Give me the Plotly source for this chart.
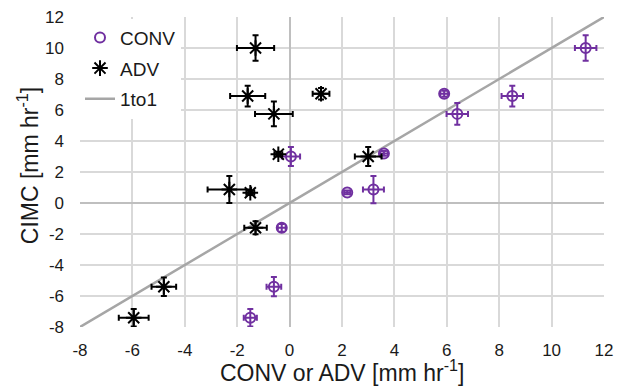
import plotly.graph_objects as go

# CONV series
conv_x = [11.3, 5.9, 8.5, 6.4, 3.6, 0.05, 2.2, 3.2, -0.3, -0.6, -1.5]
conv_y = [10.0, 7.05, 6.9, 5.75, 3.2, 3.0, 0.68, 0.87, -1.6, -5.4, -7.4]
conv_xerr = [0.41, 0.15, 0.41, 0.41, 0.15, 0.35, 0.12, 0.4, 0.15, 0.28, 0.25]
conv_yerr = [0.82, 0.2, 0.67, 0.7, 0.15, 0.62, 0.12, 0.88, 0.25, 0.62, 0.56]

# ADV series
adv_x = [-1.3, -1.6, -0.6, -0.43, 1.2, 3.0, -2.3, -1.5, -1.3, -4.8, -5.95]
adv_y = [10.0, 6.9, 5.75, 3.15, 7.05, 3.0, 0.87, 0.66, -1.6, -5.4, -7.4]
adv_xerr = [0.71, 0.67, 0.72, 0.15, 0.32, 0.51, 0.83, 0.15, 0.43, 0.47, 0.57]
adv_yerr = [0.83, 0.67, 0.8, 0.15, 0.37, 0.62, 0.87, 0.15, 0.42, 0.6, 0.56]

# 1to1 line
line_x = [-8, 12]
line_y = [-8, 12]

# tick values / labels (hyphen minus as in reference)
tick_vals = [-8, -6, -4, -2, 0, 2, 4, 6, 8, 10, 12]
tick_text = ["-8", "-6", "-4", "-2", "0", "2", "4", "6", "8", "10", "12"]

x_title = "CONV or ADV [mm hr<sup>-1</sup>]"
y_title = "CIMC [mm hr<sup>-1</sup>]"

purple = "#7030A0"

fig = go.Figure()
fig.add_trace(go.Scatter(
    x=line_x, y=line_y, mode="lines", name="1to1",
    line=dict(color="#A6A6A6", width=2.5), legendrank=3, legendgroup="c",
))
fig.add_trace(go.Scatter(
    x=conv_x, y=conv_y, mode="markers", name="CONV", legendrank=1, legendgroup="a",
    marker=dict(symbol="circle-open", size=10, color=purple, line=dict(width=2, color=purple)),
    error_x=dict(type="data", array=conv_xerr, color=purple, thickness=2, width=3),
    error_y=dict(type="data", array=conv_yerr, color=purple, thickness=2, width=3),
))
fig.add_trace(go.Scatter(
    x=adv_x, y=adv_y, mode="markers", name="ADV", legendrank=2, legendgroup="b",
    marker=dict(symbol="asterisk-open", size=13, color="black", line=dict(width=2, color="black")),
    error_x=dict(type="data", array=adv_xerr, color="black", thickness=2, width=3),
    error_y=dict(type="data", array=adv_yerr, color="black", thickness=2, width=3),
))

axis_common = dict(
    range=[-8, 12], tickmode="array", tickvals=tick_vals, ticktext=tick_text,
    showgrid=True, gridcolor="#D9D9D9", gridwidth=1.5,
    zeroline=True, zerolinecolor="#BFBFBF", zerolinewidth=2,
    showline=False, ticks="", automargin=False,
    tickfont=dict(family="Liberation Sans, Arial", size=17, color="#1a1a1a"),
)

fig.update_layout(
    width=626, height=389,
    margin=dict(l=80, r=22, t=17, b=62),
    paper_bgcolor="white", plot_bgcolor="white",
    font=dict(family="Liberation Sans, Arial", color="#1a1a1a"),
    xaxis=dict(**axis_common, ticklabelstandoff=11),
    yaxis=dict(**axis_common, ticklabelstandoff=15),
    showlegend=True,
    legend=dict(x=0, y=0.995, xanchor="left", yanchor="top",
                bgcolor="white", font=dict(size=19, color="#1a1a1a"),
                traceorder="grouped", tracegroupgap=3,
                itemwidth=30, borderwidth=0),
    annotations=[
        dict(text=x_title, xref="paper", yref="paper", x=0.5, y=-0.142,
             xanchor="center", yanchor="middle", showarrow=False,
             font=dict(size=23, color="#1a1a1a")),
        dict(text=y_title, xref="paper", yref="paper", x=-0.099, y=0.519,
             xanchor="center", yanchor="middle", showarrow=False, textangle=-90,
             font=dict(size=23, color="#1a1a1a")),
    ],
)

fig.write_html("out.html")
